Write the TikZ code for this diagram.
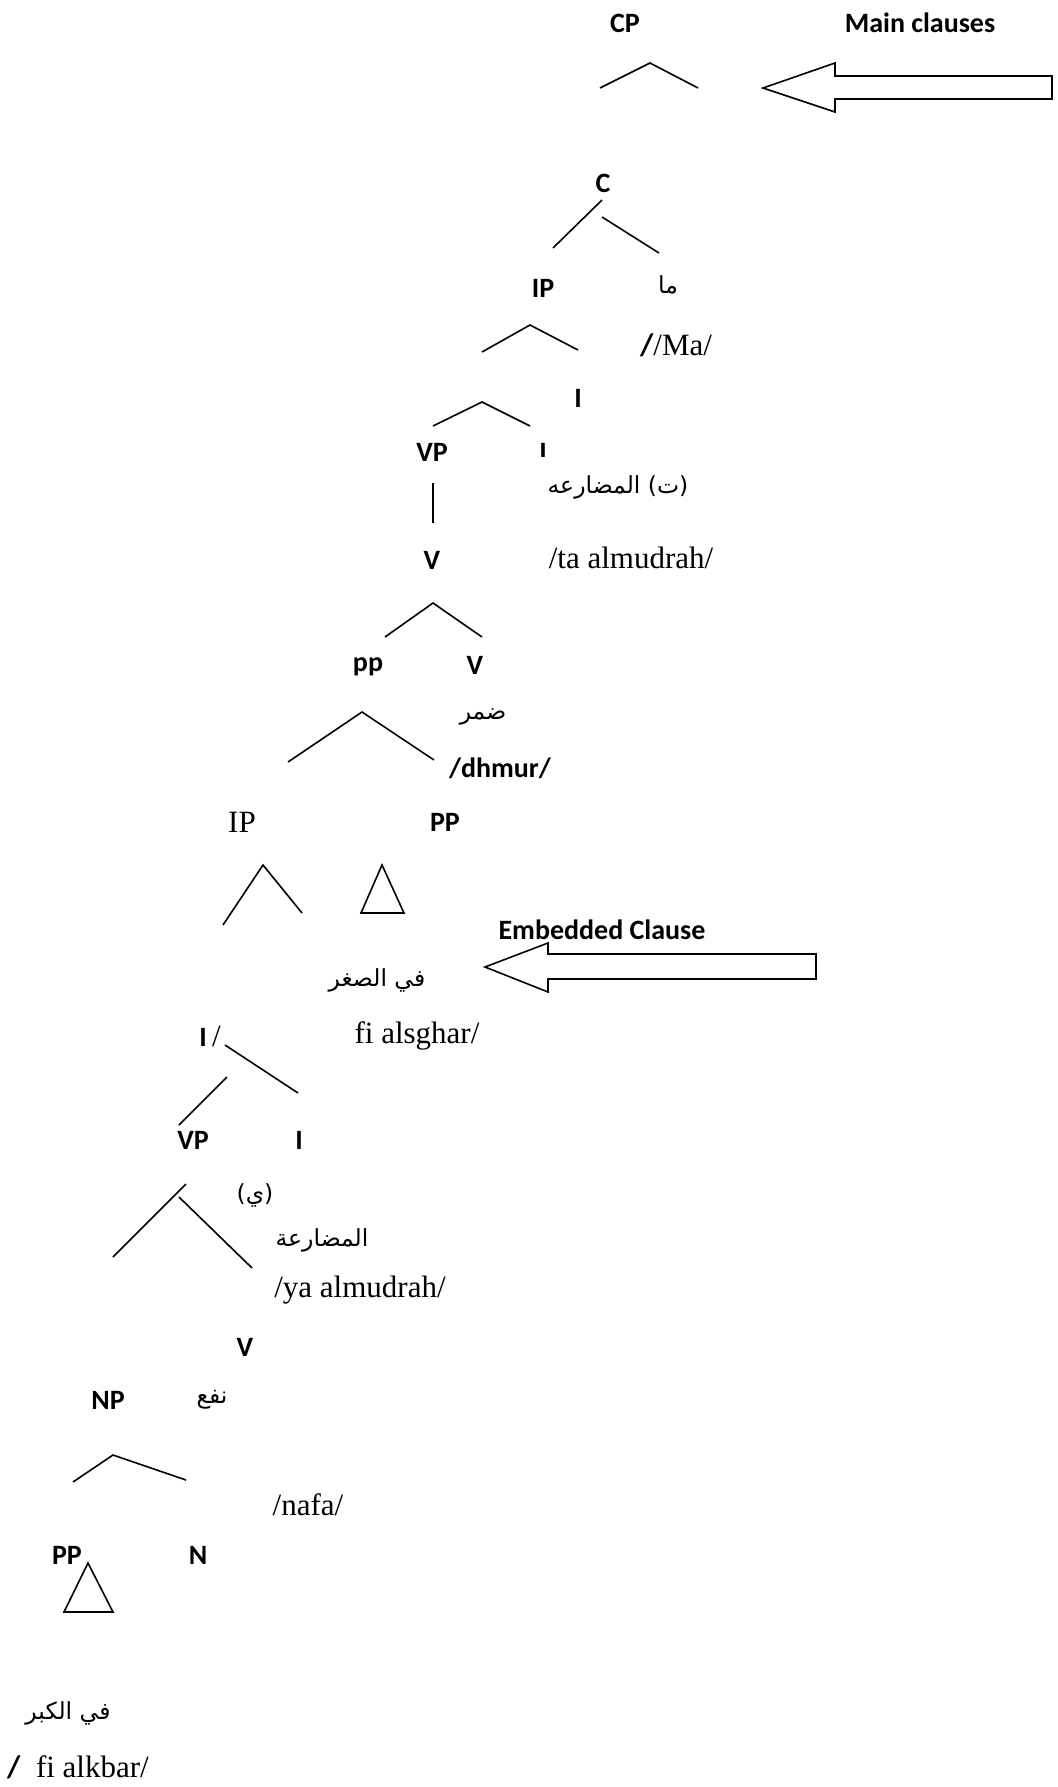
\documentclass[tikz,border=0pt]{standalone}
\usepackage{fontspec}
\setmainfont{Liberation Serif}
\newfontfamily\calfont{Carlito}
\newfontfamily\arabicfont[Script=Arabic]{DejaVu Sans}
\TeXXeTstate=1
\begin{document}
\begin{tikzpicture}[x=1pt,y=-1pt,
  lab/.style={font=\calfont\bfseries\fontsize{28}{32}\selectfont,inner sep=0pt},
  rom/.style={font=\fontsize{31}{36}\selectfont,inner sep=0pt},
  ar/.style={font=\arabicfont\fontsize{23.5}{28}\selectfont,inner sep=0pt},
  branch/.style={line width=1.6pt},
  blockarrow/.style={line width=1.6pt,line join=miter}]
\useasboundingbox (0,0) rectangle (1057,1787);

% ---- main clause: CP ----
\node[lab] (cp) at (625,23) {CP};
\node[lab] (main) at (920,23) {Main clauses};
\coordinate (cpL) at (600,88);
\coordinate (cpA) at (650,63);
\coordinate (cpR) at (698,88);
\draw[branch] (cpL) -- (cpA) -- (cpR);

% block arrow pointing at CP
\coordinate (a1tip) at (763,88);
\coordinate (a1ht) at (835,63);
\coordinate (a1st) at (835,76);
\coordinate (a1et) at (1052,76);
\coordinate (a1eb) at (1052,99);
\coordinate (a1sb) at (835,99);
\coordinate (a1hb) at (835,112);
\draw[blockarrow] (a1tip) -- (a1ht) -- (a1st) -- (a1et) -- (a1eb) -- (a1sb) -- (a1hb) -- cycle;

% ---- C ----
\node[lab] (c) at (603,183) {C};
\coordinate (cA1) at (602,200);
\coordinate (cL) at (553,248);
\coordinate (cA2) at (602,217);
\coordinate (cR) at (659,253);
\draw[branch] (cA1) -- (cL);
\draw[branch] (cA2) -- (cR);

\node[lab] (ip1) at (543,288) {IP};
\node[ar] (ma) at (668,285) {\beginR ما\endR};
\node[inner sep=0pt,font=\fontsize{31}{36}\selectfont] (marom) at (676,345) {{\calfont\bfseries /}/Ma/};

\coordinate (ip1L) at (482,352);
\coordinate (ip1A) at (530,325);
\coordinate (ip1R) at (578,350);
\draw[branch] (ip1L) -- (ip1A) -- (ip1R);

% ---- I ----
\node[lab] (i1) at (578,398) {I};
\coordinate (i1L) at (433,426);
\coordinate (i1A) at (482,402);
\coordinate (i1R) at (530,426);
\draw[branch] (i1L) -- (i1A) -- (i1R);

\node[lab] (vp1) at (432,452) {VP};
\begin{scope}
  \clip (520,430) rectangle (570,456);
  \node[lab] (i1b) at (543,452) {I};
\end{scope}
\node[ar] (ta) at (618,487) {\beginR (ت) المضارعه\endR};
\coordinate (vp1B) at (433,483);
\coordinate (v1T) at (433,523);
\draw[branch] (vp1B) -- (v1T);
\node[lab] (v1) at (432,560) {V};
\node[rom] (tarom) at (631,558) {/ta almudrah/};

% ---- V ----
\coordinate (v1L) at (385,637);
\coordinate (v1A) at (433,603);
\coordinate (v1R) at (482,637);
\draw[branch] (v1L) -- (v1A) -- (v1R);
\node[lab] (pp1) at (368,667) {pp};
\node[lab] (v2) at (475,665) {V};
\node[ar] (dhmurar) at (483,717) {\beginR ضمر\endR};
\coordinate (pp1L) at (288,762);
\coordinate (pp1A) at (362,712);
\coordinate (pp1R) at (434,760);
\draw[branch] (pp1L) -- (pp1A) -- (pp1R);
\node[lab] (dhmur) at (500,768) {/dhmur/};

% ---- embedded IP and PP ----
\node[rom] (ip2) at (242,822) {IP};
\node[lab] (pp2) at (445,822) {PP};
\coordinate (ip2L) at (223,925);
\coordinate (ip2A) at (263,865);
\coordinate (ip2R) at (302,913);
\draw[branch] (ip2L) -- (ip2A) -- (ip2R);
\coordinate (t1A) at (382,865);
\coordinate (t1L) at (361,913);
\coordinate (t1R) at (404,913);
\draw[branch,line join=miter] (t1A) -- (t1L) -- (t1R) -- cycle;

\node[lab] (emb) at (602,930) {Embedded Clause};
\coordinate (a2tip) at (485,967);
\coordinate (a2ht) at (548,943);
\coordinate (a2st) at (548,954);
\coordinate (a2et) at (816,954);
\coordinate (a2eb) at (816,979);
\coordinate (a2sb) at (548,979);
\coordinate (a2hb) at (548,992);
\draw[blockarrow] (a2tip) -- (a2ht) -- (a2st) -- (a2et) -- (a2eb) -- (a2sb) -- (a2hb) -- cycle;

\node[ar] (sghar) at (377,980) {\beginR في الصغر\endR};
\node[rom] (sgharrom) at (417,1036) {fi alsghar/};

% ---- embedded I ----
\node[inner sep=0pt,font=\fontsize{31}{36}\selectfont] (i2) at (210,1036) {{\calfont\bfseries\fontsize{28}{32}\selectfont I}\,/};
\coordinate (i2A1) at (225,1045);
\coordinate (i2R) at (298,1093);
\coordinate (i2A2) at (227,1077);
\coordinate (i2L) at (179,1125);
\draw[branch] (i2A1) -- (i2R);
\draw[branch] (i2A2) -- (i2L);
\node[lab] (vp2) at (193,1140) {VP};
\node[lab] (i3) at (299,1140) {I};
\node[ar] (ya) at (255,1195) {\beginR (ي)\endR};
\coordinate (vp2A1) at (186,1184);
\coordinate (vp2L) at (113,1257);
\coordinate (vp2A2) at (179,1197);
\coordinate (vp2R) at (252,1268);
\draw[branch] (vp2A1) -- (vp2L);
\draw[branch] (vp2A2) -- (vp2R);
\node[ar] (mud2) at (322,1240) {\beginR المضارعة\endR};
\node[rom] (yarom) at (360,1290) {/ya almudrah/};

% ---- embedded V ----
\node[lab] (v3) at (245,1347) {V};
\node[lab] (np) at (108,1400) {NP};
\node[ar] (nafa) at (212,1400) {\beginR نفع\endR};
\coordinate (npL) at (73,1482);
\coordinate (npA) at (113,1455);
\coordinate (npR) at (186,1480);
\draw[branch] (npL) -- (npA) -- (npR);
\node[rom] (nafarom) at (308,1505) {/nafa/};
\node[lab] (pp3) at (67,1555) {PP};
\node[lab] (n) at (198,1555) {N};
\coordinate (t2A) at (88,1563);
\coordinate (t2L) at (64,1612);
\coordinate (t2R) at (113,1612);
\draw[branch,line join=miter] (t2A) -- (t2L) -- (t2R) -- cycle;
\node[ar] (kbar) at (68,1713) {\beginR في الكبر\endR};
\node[inner sep=0pt,font=\fontsize{31}{36}\selectfont] (kbarrom) at (78,1767) {{\calfont\bfseries /}\ \ fi alkbar/};
\end{tikzpicture}
\end{document}
